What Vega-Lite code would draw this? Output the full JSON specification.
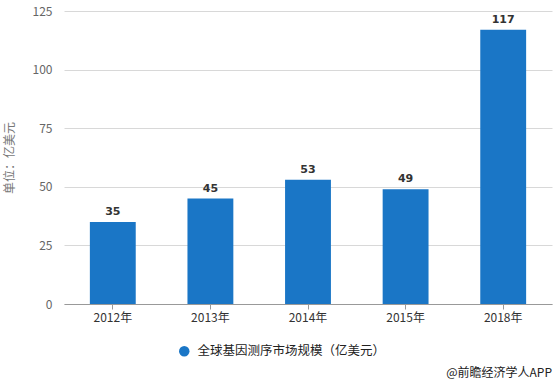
{
  "$schema": "https://vega.github.io/schema/vega-lite/v6.json",
  "width": 488,
  "height": 293,
  "autosize": {"type": "none"},
  "padding": {"left": 64, "top": 11, "right": 7, "bottom": 81},
  "background": "white",
  "config": {"view": {"stroke": null}, "font": "Noto Sans CJK SC"},
  "title": {"text": "@前瞻经济学人APP", "orient": "bottom", "anchor": "end", "fontSize": 12, "fontWeight": "normal", "color": "#222", "offset": 22, "baseline": "bottom", "font": "Noto Sans CJK SC"},
  "data": {"values": [
    {"year": "2012年", "value": 35, "series": "全球基因测序市场规模（亿美元）"},
    {"year": "2013年", "value": 45, "series": "全球基因测序市场规模（亿美元）"},
    {"year": "2014年", "value": 53, "series": "全球基因测序市场规模（亿美元）"},
    {"year": "2015年", "value": 49, "series": "全球基因测序市场规模（亿美元）"},
    {"year": "2018年", "value": 117, "series": "全球基因测序市场规模（亿美元）"}
  ]},
  "encoding": {
    "x": {"field": "year", "type": "nominal", "sort": null,
      "scale": {"paddingInner": 0.53, "paddingOuter": 0.265},
      "axis": {"title": null, "labelAngle": 0, "labelFontSize": 12, "labelColor": "#333", "domainColor": "#999", "tickColor": "#999", "tickSize": 5, "labelPadding": 3}},
    "y": {"field": "value", "type": "quantitative",
      "scale": {"domain": [0, 125]},
      "axis": {"values": [0, 25, 50, 75, 100, 125], "title": "单位：亿美元", "titleColor": "#777", "titleFontSize": 12, "titleFontWeight": "normal", "titlePadding": 16, "labelColor": "#666", "labelFontSize": 12, "domain": false, "ticks": false, "gridColor": "#d8d8d8", "labelPadding": 12}}
  },
  "layer": [
    {"mark": {"type": "bar", "color": "#1a76c6"},
     "encoding": {"color": {"field": "series", "type": "nominal",
        "scale": {"range": ["#1a76c6"]},
        "legend": {"title": null, "orient": "none", "legendX": 114, "legendY": 334, "symbolType": "circle", "symbolSize": 110, "labelFontSize": 12.5, "labelColor": "#222", "labelLimit": 400, "labelOffset": 7, "symbolStrokeWidth": 0}}}},
    {"mark": {"type": "text", "dy": -10, "fontWeight": "bold", "fontSize": 11, "color": "#333", "font": "DejaVu Sans"},
     "encoding": {"text": {"field": "value", "type": "quantitative"}}}
  ]
}
